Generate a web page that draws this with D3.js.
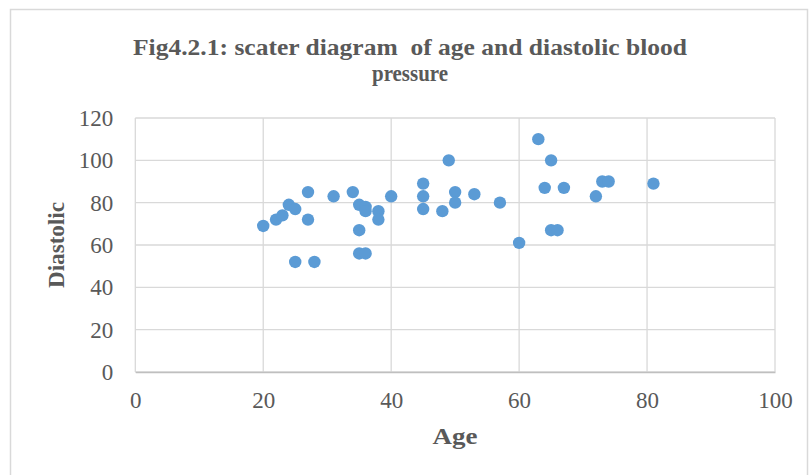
<!DOCTYPE html>
<html>
<head>
<meta charset="utf-8">
<script src="https://cdn.jsdelivr.net/npm/d3@7"></script>
<style>
  html, body { margin: 0; padding: 0; background: #fff; }
  svg { display: block; }
</style>
</head>
<body>
<svg id="chart" width="809" height="475"></svg>
<script>
const titleLines = ["Fig4.2.1: scater diagram  of age and diastolic blood", "pressure"];
const xLabel = "Age";
const yLabel = "Diastolic";
const xTicks = [0, 20, 40, 60, 80, 100];
const yTicks = [0, 20, 40, 60, 80, 100, 120];
const ages =      [20, 22, 23, 24, 25, 27, 27, 25, 28, 31, 34, 35, 36, 36, 38, 38, 35, 35, 36, 40, 45, 45, 45, 49, 48, 50, 50, 53, 57, 60, 63, 65, 64, 67, 65, 66, 72, 73, 74, 81];
const diastolic = [69, 72, 74, 79, 77, 85, 72, 52, 52, 83, 85, 79, 78, 76, 76, 72, 67, 56, 56, 83, 89, 83, 77, 100, 76, 85, 80, 84, 80, 61, 110, 100, 87, 87, 67, 67, 83, 90, 90, 89];

const svg = d3.select("#chart");
const textColor = "#595959";
const gridColor = "#d9d9d9";
const serif = "'Liberation Serif', 'Times New Roman', serif";

// outer chart border
svg.append("rect")
  .attr("x", 10.5).attr("y", 9.5)
  .attr("width", 797).attr("height", 480)
  .attr("fill", "#fff").attr("stroke", "#d9d9d9").attr("stroke-width", 1.5);

const plot = { left: 135.3, right: 775, top: 118, bottom: 372 };
const x = d3.scaleLinear().domain([0, 100]).range([plot.left, plot.right]);
const y = d3.scaleLinear().domain([0, 120]).range([plot.bottom, plot.top]);

// gridlines
svg.append("g").selectAll("line").data(yTicks).join("line")
  .attr("x1", plot.left).attr("x2", plot.right)
  .attr("y1", d => y(d)).attr("y2", d => y(d))
  .attr("stroke", gridColor).attr("stroke-width", 1.3);
svg.append("g").selectAll("line").data(xTicks).join("line")
  .attr("y1", plot.top).attr("y2", plot.bottom)
  .attr("x1", d => x(d)).attr("x2", d => x(d))
  .attr("stroke", gridColor).attr("stroke-width", 1.3);

// axes
const xAxis = svg.append("g")
  .attr("transform", `translate(0,${plot.bottom})`)
  .call(d3.axisBottom(x).tickValues(xTicks).tickSize(0).tickPadding(20));
xAxis.select(".domain").attr("stroke", "#bfbfbf").attr("stroke-width", 1.3);
xAxis.selectAll("text")
  .attr("font-family", serif)
  .attr("font-size", 23).attr("fill", textColor);

const yAxis = svg.append("g")
  .attr("transform", `translate(${plot.left},0)`)
  .call(d3.axisLeft(y).tickValues(yTicks).tickSize(0).tickPadding(22));
yAxis.select(".domain").remove();
yAxis.selectAll("text")
  .attr("font-family", serif)
  .attr("font-size", 23).attr("fill", textColor);

// points
const pts = ages.map((a, i) => ({ a, d: diastolic[i] }));
svg.append("g").selectAll("circle").data(pts).join("circle")
  .attr("cx", p => x(p.a)).attr("cy", p => y(p.d))
  .attr("r", 6.2)
  .attr("fill", "#5b9bd5");

// title
const title = svg.append("g")
  .attr("font-family", serif)
  .attr("font-weight", "bold").attr("font-size", 23).attr("fill", textColor)
  .attr("text-anchor", "middle");
title.append("text").attr("x", 410).attr("y", 55)
  .attr("xml:space", "preserve").style("white-space", "pre")
  .attr("textLength", 554).attr("lengthAdjust", "spacingAndGlyphs")
  .text(titleLines[0]);
title.append("text").attr("x", 410).attr("y", 81)
  .attr("textLength", 76).attr("lengthAdjust", "spacingAndGlyphs")
  .text(titleLines[1]);

// axis titles
svg.append("text")
  .attr("x", 455).attr("y", 444)
  .attr("text-anchor", "middle")
  .attr("font-family", serif)
  .attr("font-weight", "bold").attr("font-size", 23).attr("fill", textColor)
  .attr("textLength", 45).attr("lengthAdjust", "spacingAndGlyphs")
  .text(xLabel);
svg.append("text")
  .attr("transform", "translate(64,245) rotate(-90)")
  .attr("text-anchor", "middle")
  .attr("font-family", serif)
  .attr("font-weight", "bold").attr("font-size", 23).attr("fill", textColor)
  .attr("textLength", 86).attr("lengthAdjust", "spacingAndGlyphs")
  .text(yLabel);
</script>
</body>
</html>
